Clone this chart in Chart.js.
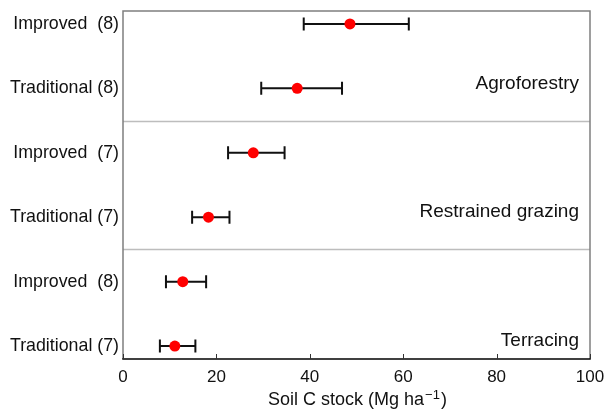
<!DOCTYPE html>
<html>
<head>
<meta charset="utf-8">
<script src="https://cdn.jsdelivr.net/npm/chart.js@4/dist/chart.umd.min.js"></script>
<style>
  html, body { margin: 0; padding: 0; background: #fff; }
  #wrap { width: 608px; height: 410px; }
</style>
</head>
<body>
<div id="wrap"><canvas id="socChart"></canvas></div>
<script>
const rowLabels = ["Improved  (8)", "Traditional (8)", "Improved  (7)", "Traditional (7)", "Improved  (8)", "Traditional (7)"];
const means = [48.6, 37.3, 27.9, 18.3, 12.8, 11.1];
const lows = [38.7, 29.6, 22.5, 14.8, 9.2, 7.9];
const highs = [61.2, 46.9, 34.6, 22.8, 17.8, 15.5];
const groupNames = ["Agroforestry", "Restrained grazing", "Terracing"];
const groupRows = [1, 3, 5];
const separators = [1.5, 3.5];
const xTicks = [0, 20, 40, 60, 80, 100];

const points = means.map((m, i) => ({ x: m, y: i }));
const font = "Liberation Sans, Arial, sans-serif";

// error bars, separators, inner ticks, frame and labels
const extras = {
    id: "extras",
    beforeDatasetsDraw(chart) {
        const ctx = chart.ctx;
        const xs = chart.scales.x, ys = chart.scales.y;
        const a = chart.chartArea;
        ctx.save();
        ctx.strokeStyle = "#bdbdbd";
        ctx.lineWidth = 1.5;
        separators.forEach(v => {
            const y = Math.round(ys.getPixelForValue(v)) + 0.5;
            ctx.beginPath(); ctx.moveTo(a.left, y); ctx.lineTo(a.right, y); ctx.stroke();
        });

        ctx.strokeStyle = "#7f7f7f";
        ctx.lineWidth = 1.5;
        ctx.beginPath();
        ctx.moveTo(a.left, a.bottom); ctx.lineTo(a.left, a.top);
        ctx.lineTo(a.right, a.top); ctx.lineTo(a.right, a.bottom);
        ctx.stroke();
        ctx.strokeStyle = "#000";
        ctx.beginPath(); ctx.moveTo(a.left - 0.75, a.bottom); ctx.lineTo(a.right + 0.75, a.bottom); ctx.stroke();

        // ticks pointing inward
        ctx.strokeStyle = "#333";
        ctx.lineWidth = 1;
        xTicks.forEach(v => {
            const x = Math.round(xs.getPixelForValue(v)) + 0.5;
            ctx.beginPath(); ctx.moveTo(x, a.bottom); ctx.lineTo(x, a.bottom - 5); ctx.stroke();
        });

        // error bars
        ctx.strokeStyle = "#111";
        ctx.lineWidth = 2;
        means.forEach((m, i) => {
            const y = ys.getPixelForValue(i);
            const x1 = xs.getPixelForValue(lows[i]);
            const x2 = xs.getPixelForValue(highs[i]);
            ctx.beginPath();
            ctx.moveTo(x1, y); ctx.lineTo(x2, y);
            ctx.moveTo(x1, y - 6.5); ctx.lineTo(x1, y + 6.5);
            ctx.moveTo(x2, y - 6.5); ctx.lineTo(x2, y + 6.5);
            ctx.stroke();
        });

        // group names
        ctx.fillStyle = "#111";
        ctx.font = "19px " + font;
        ctx.textAlign = "right";
        ctx.textBaseline = "middle";
        groupNames.forEach((g, i) => {
            ctx.fillText(g, a.right - 11, ys.getPixelForValue(groupRows[i]) - 5);
        });

        // axis title with superscript
        const cx = (a.left + a.right) / 2, ty = 400;
        const main = "Soil C stock (Mg ha", sup = "\u22121", end = ")";
        ctx.font = "18px " + font;
        const w1 = ctx.measureText(main).width, w3 = ctx.measureText(end).width;
        ctx.font = "13px " + font;
        const w2 = ctx.measureText(sup).width;
        let x0 = cx - (w1 + w2 + w3) / 2;
        ctx.textAlign = "left";
        ctx.font = "18px " + font;
        ctx.fillText(main, x0, ty);
        ctx.font = "13px " + font;
        ctx.fillText(sup, x0 + w1 + 1, ty - 5);
        ctx.font = "18px " + font;
        ctx.fillText(end, x0 + w1 + w2 + 2, ty);
        ctx.restore();
    }
};

new Chart("socChart", {
    type: "scatter",
    data: {
        datasets: [{
            data: points,
            backgroundColor: "#ff0000",
            borderWidth: 0,
            pointRadius: 5.5,
            pointHoverRadius: 5.5
        }]
    },
    options: {
        responsive: true,
        maintainAspectRatio: false,
        animation: false,
        events: [],
        layout: { padding: { top: 11, right: 18, left: 0, bottom: 0 } },
        plugins: { legend: { display: false }, tooltip: { enabled: false } },
        scales: {
            x: {
                min: 0, max: 100,
                afterBuildTicks: s => { s.ticks = xTicks.map(v => ({ value: v })); },
                grid: { display: false, drawTicks: false },
                border: { display: false },
                ticks: { color: "#111", padding: 8, font: { family: font, size: 17 }, maxRotation: 0 },
                afterFit: s => { s.height = 51; s.paddingLeft = 0; s.paddingRight = 0; }
            },
            y: {
                reverse: true,
                min: -0.2, max: 5.2,
                afterBuildTicks: s => { s.ticks = rowLabels.map((l, i) => ({ value: i })); },
                grid: { display: false, drawTicks: false },
                border: { display: false },
                ticks: {
                    color: "#111", padding: 4,
                    font: { family: font, size: 17.8 },
                    callback: (v) => rowLabels[v]
                },
                afterFit: s => { s.width = 123; s.paddingTop = 0; s.paddingBottom = 0; }
            }
        }
    },
    plugins: [extras]
});
</script>
</body>
</html>
